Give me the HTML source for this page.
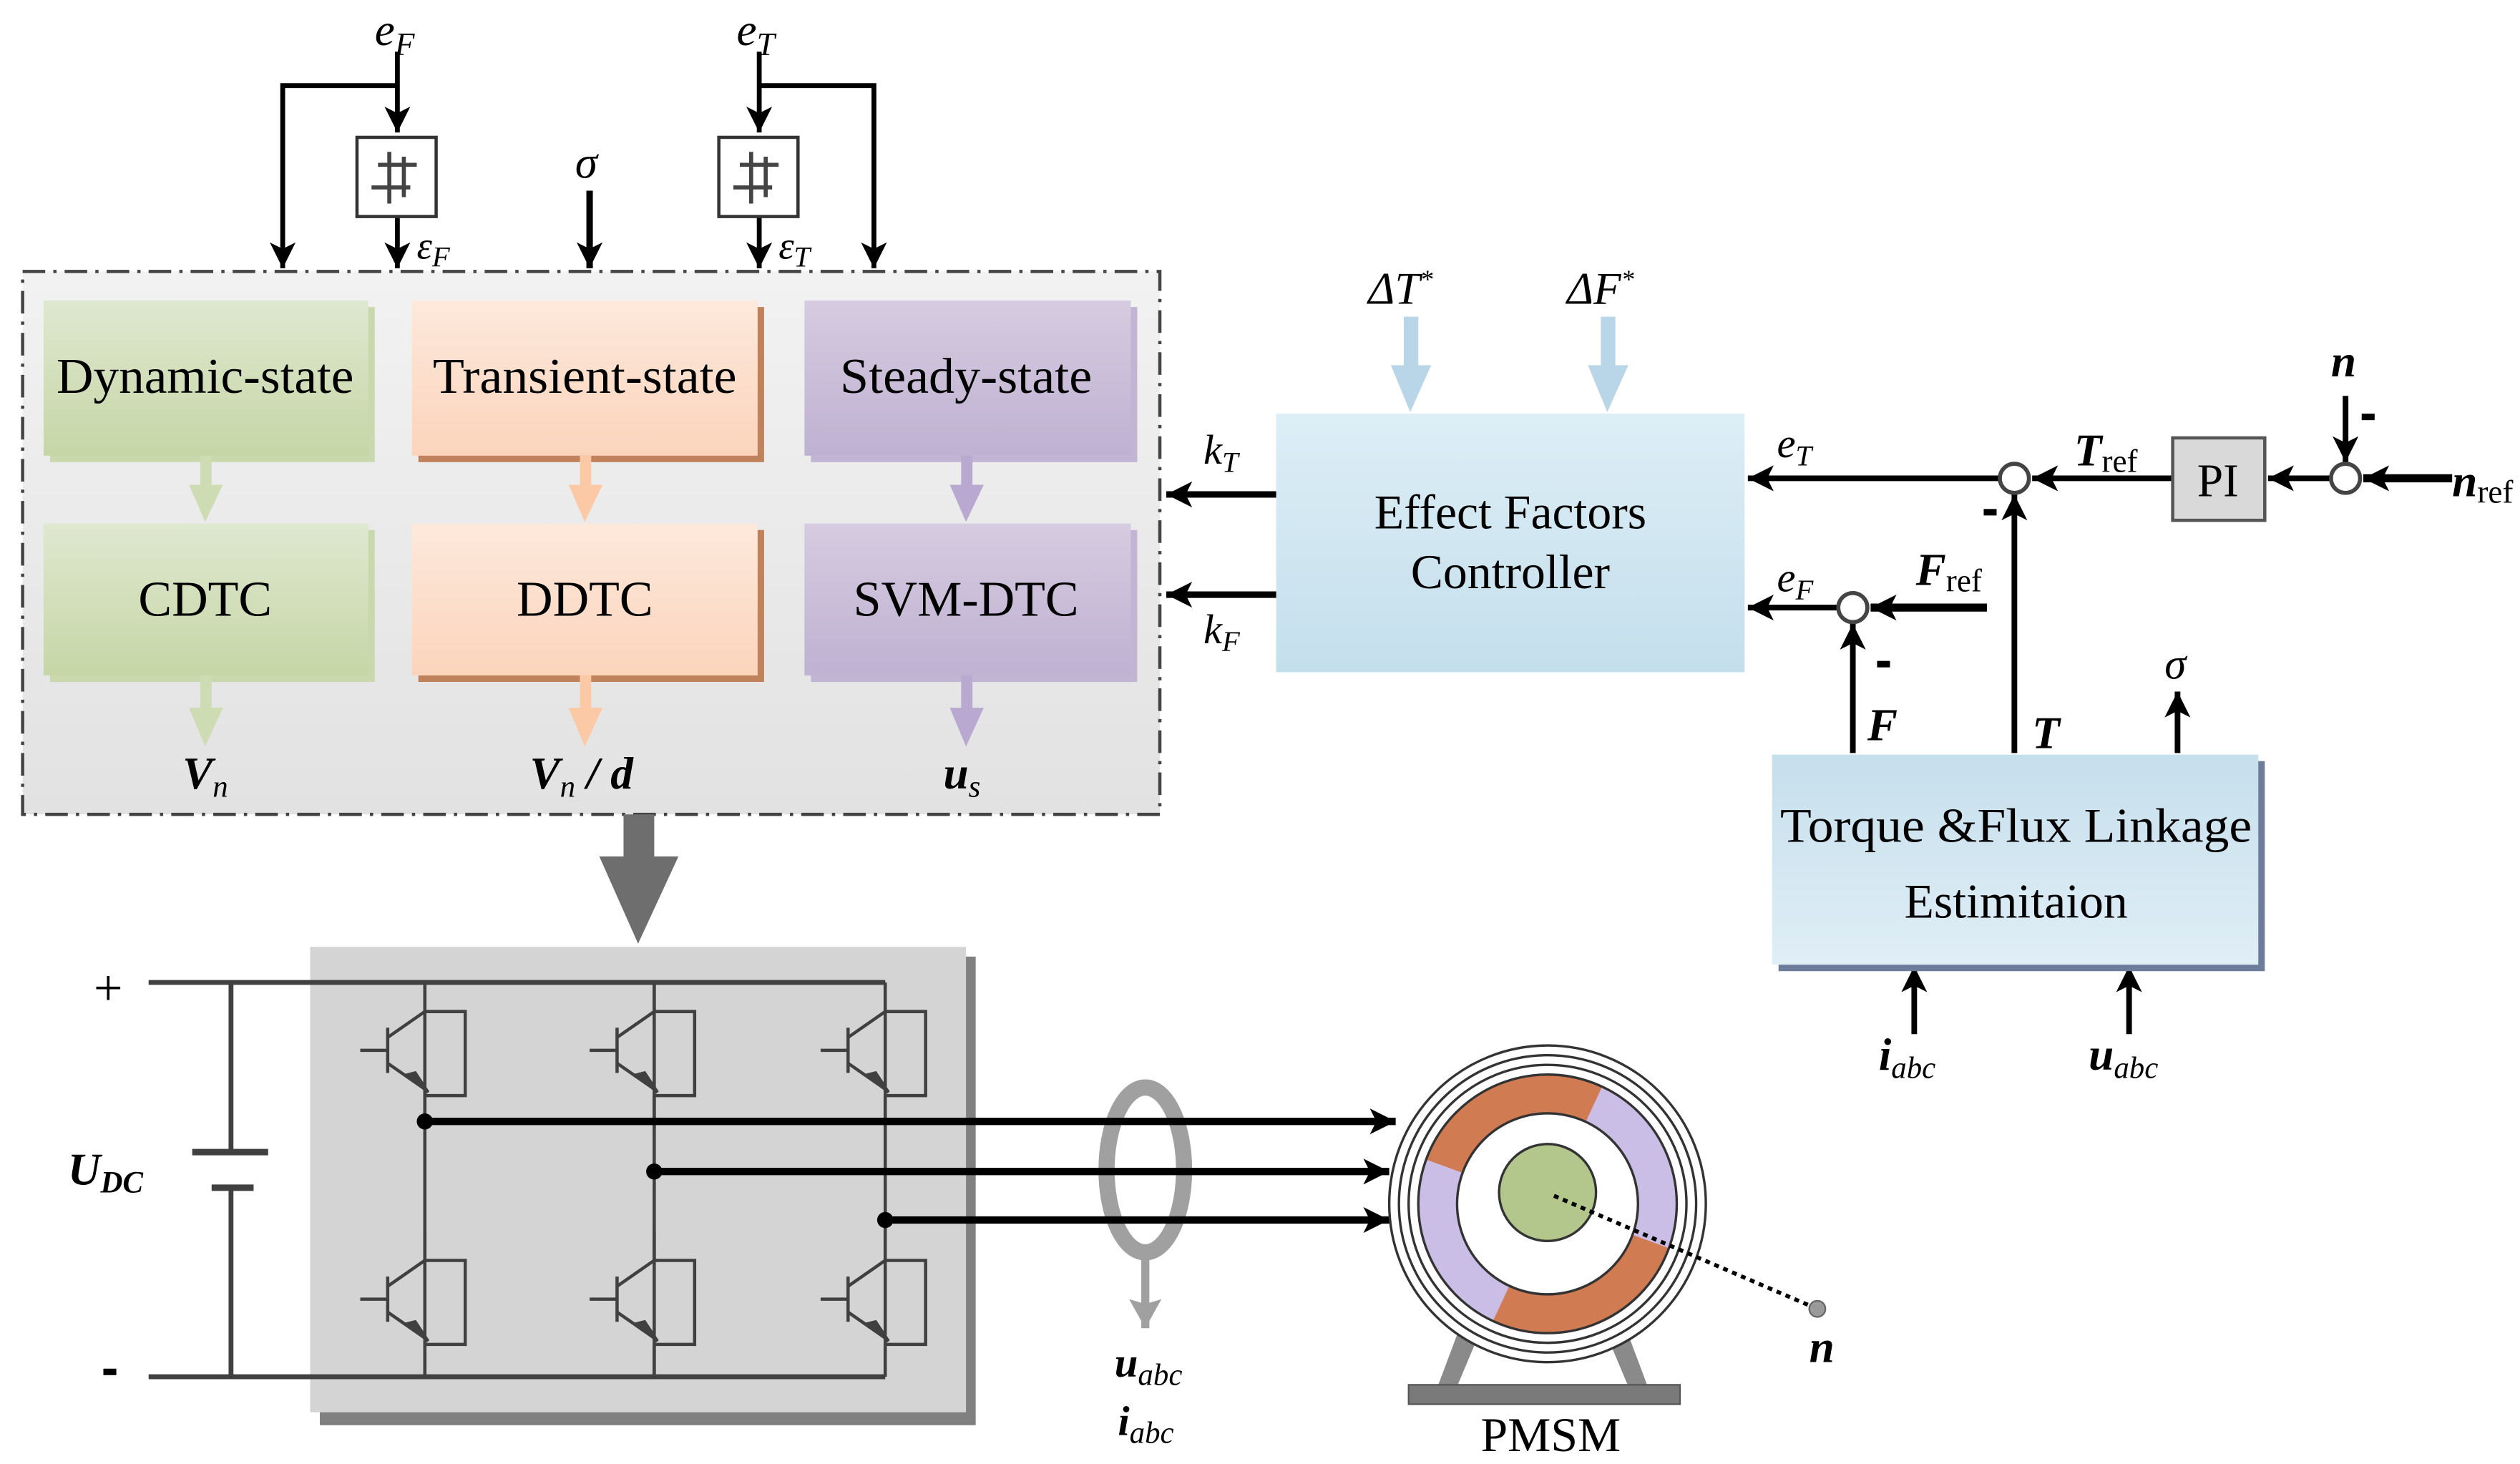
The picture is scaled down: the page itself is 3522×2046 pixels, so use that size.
<!DOCTYPE html>
<html><head><meta charset="utf-8"><style>
html,body{margin:0;padding:0;background:#fff;}
svg{display:block;}
text{font-family:"Liberation Serif",serif;}
</style></head><body>
<svg width="3522" height="2046" viewBox="0 0 1560 906" preserveAspectRatio="none" xmlns="http://www.w3.org/2000/svg">
<defs>
<marker id="ab" markerUnits="userSpaceOnUse" markerWidth="20" markerHeight="16" refX="16" refY="8" orient="auto"><path d="M0,0 L16,8 L0,16 L4,8 z" fill="#000"/></marker>
<marker id="ag" markerUnits="userSpaceOnUse" markerWidth="20" markerHeight="20" refX="18" refY="10" orient="auto"><path d="M0,0 L18,10 L0,20 L3,10 z" fill="#a0a0a0"/></marker>
<linearGradient id="bg" x1="0" y1="0" x2="0" y2="1"><stop offset="0" stop-color="#f2f2f2"/><stop offset="1" stop-color="#e2e2e2"/></linearGradient>
<linearGradient id="gr" x1="0" y1="0" x2="0" y2="1"><stop offset="0" stop-color="#dfe8d0"/><stop offset="1" stop-color="#c6d6a6"/></linearGradient>
<linearGradient id="or" x1="0" y1="0" x2="0" y2="1"><stop offset="0" stop-color="#fde9dc"/><stop offset="1" stop-color="#fbd4bc"/></linearGradient>
<linearGradient id="pu" x1="0" y1="0" x2="0" y2="1"><stop offset="0" stop-color="#d6cbe0"/><stop offset="1" stop-color="#bfb1d2"/></linearGradient>
<linearGradient id="bl" x1="0" y1="0" x2="0" y2="1"><stop offset="0" stop-color="#ddeef6"/><stop offset="1" stop-color="#c4dfec"/></linearGradient>
<linearGradient id="bl2" x1="0" y1="0" x2="0" y2="1"><stop offset="0" stop-color="#c6dfec"/><stop offset="1" stop-color="#e0eef6"/></linearGradient>
<g id="igbt" fill="none" stroke="#404040" stroke-width="2">
<path d="M0,0 V18 M0,18 H25 V70 H0 M0,70 V90"/>
<path d="M-23,28 V56 M-40,42 H-23 M-23,34 L0,18 M-23,50 L0,66"/>
<path d="M-10,57 L2,68 L-6,56 z" fill="#404040"/>
</g>
</defs>

<rect x="14" y="168" width="704" height="336" fill="url(#bg)" stroke="#444" stroke-width="2" stroke-dasharray="14,5,2,5"/>

<rect x="31" y="190" width="201" height="96" fill="#c9d8ad"/>
<rect x="27" y="186" width="201" height="96" fill="url(#gr)"/>
<rect x="259" y="190" width="214" height="96" fill="#c0825a"/>
<rect x="255" y="186" width="214" height="96" fill="url(#or)"/>
<rect x="502" y="190" width="202" height="96" fill="#c2b5d4"/>
<rect x="498" y="186" width="202" height="96" fill="url(#pu)"/>
<rect x="31" y="328" width="201" height="94" fill="#c9d8ad"/>
<rect x="27" y="324" width="201" height="94" fill="url(#gr)"/>
<rect x="259" y="328" width="214" height="94" fill="#c0825a"/>
<rect x="255" y="324" width="214" height="94" fill="url(#or)"/>
<rect x="502" y="328" width="202" height="94" fill="#c2b5d4"/>
<rect x="498" y="324" width="202" height="94" fill="url(#pu)"/>
<g font-size="31" text-anchor="middle" fill="#000">
<text x="127" y="243" textLength="184" lengthAdjust="spacingAndGlyphs">Dynamic-state</text>
<text x="362" y="243" textLength="188" lengthAdjust="spacingAndGlyphs">Transient-state</text>
<text x="598" y="243" textLength="156" lengthAdjust="spacingAndGlyphs">Steady-state</text>
<text x="127" y="381">CDTC</text>
<text x="362" y="381">DDTC</text>
<text x="598" y="381">SVM-DTC</text>
</g>
<g>
<rect x="124" y="282" width="7" height="20" fill="#cddcb2"/><path d="M117,300 L138,300 L127,323 z" fill="#cddcb2"/>
<rect x="359" y="282" width="7" height="20" fill="#fcc9a6"/><path d="M352,300 L373,300 L362,323 z" fill="#fcc9a6"/>
<rect x="595" y="282" width="7" height="20" fill="#b9a8cf"/><path d="M588,300 L609,300 L598,323 z" fill="#b9a8cf"/>
<rect x="124" y="418" width="7" height="22" fill="#cddcb2"/><path d="M117,438 L138,438 L127,462 z" fill="#cddcb2"/>
<rect x="359" y="418" width="7" height="22" fill="#fcc9a6"/><path d="M352,438 L373,438 L362,462 z" fill="#fcc9a6"/>
<rect x="595" y="418" width="7" height="22" fill="#b9a8cf"/><path d="M588,438 L609,438 L598,462 z" fill="#b9a8cf"/>
</g>
<g font-size="28" font-weight="bold" font-style="italic">
<text x="113" y="488">V<tspan font-size="19" font-weight="normal" dy="5">n</tspan></text>
<text x="328" y="488">V<tspan font-size="19" font-weight="normal" dy="5">n</tspan><tspan dy="-5"> / d</tspan></text>
<text x="584" y="488">u<tspan font-size="19" font-weight="normal" dy="5">s</tspan></text>
</g>

<g font-size="28" font-style="italic">
<text x="232" y="28">e<tspan font-size="20" dy="6">F</tspan></text>
<text x="456" y="28">e<tspan font-size="20" dy="6">T</tspan></text>
<text x="356" y="110">σ</text>
<text x="258" y="160" font-size="24">ε<tspan font-size="18" dy="5">F</tspan></text>
<text x="482" y="160" font-size="24">ε<tspan font-size="18" dy="5">T</tspan></text>
</g>
<g stroke="#000" stroke-width="3" fill="none">
<path d="M246,32 V82" marker-end="url(#ab)"/>
<path d="M246,53 H175 V166" marker-end="url(#ab)"/>
<path d="M246,134 V166" marker-end="url(#ab)"/>
<path d="M470,32 V82" marker-end="url(#ab)"/>
<path d="M470,53 H541 V166" marker-end="url(#ab)"/>
<path d="M470,134 V166" marker-end="url(#ab)"/>
<path d="M365,118 V166" stroke-width="4" marker-end="url(#ab)"/>
</g>
<rect x="221" y="85" width="49" height="49" fill="#fff" stroke="#333" stroke-width="2"/>
<rect x="445" y="85" width="49" height="49" fill="#fff" stroke="#333" stroke-width="2"/>
<g stroke="#444" stroke-width="2.5" fill="none">
<path d="M234,102 H258 M230,116 H254 M241,94 V126 M250,97 V122"/>
<path d="M458,102 H482 M454,116 H478 M465,94 V126 M474,97 V122"/>
</g>

<rect x="790" y="256" width="290" height="160" fill="url(#bl)"/>
<g font-size="30" text-anchor="middle"><text x="935" y="327">Effect Factors</text><text x="935" y="364">Controller</text></g>
<g font-size="28" font-style="italic">
<text x="847" y="188">ΔT<tspan font-size="16" dy="-10">*</tspan></text>
<text x="970" y="188">ΔF<tspan font-size="16" dy="-10">*</tspan></text>
</g>
<rect x="869" y="196" width="9" height="34" fill="#b8d6e8"/><path d="M861,226 L886,226 L873,255 z" fill="#b8d6e8"/>
<rect x="991" y="196" width="9" height="34" fill="#b8d6e8"/><path d="M983,226 L1008,226 L995,255 z" fill="#b8d6e8"/>
<g stroke="#000" stroke-width="4" fill="none">
<path d="M790,306 H722" marker-end="url(#ab)"/>
<path d="M790,368 H722" marker-end="url(#ab)"/>
</g>
<g font-size="26" font-style="italic">
<text x="745" y="287">k<tspan font-size="18" dy="5">T</tspan></text>
<text x="745" y="398">k<tspan font-size="18" dy="5">F</tspan></text>
<text x="1100" y="283">e<tspan font-size="18" dy="5">T</tspan></text>
<text x="1100" y="366">e<tspan font-size="18" dy="5">F</tspan></text>
</g>

<g stroke="#000" stroke-width="3.5" fill="none">
<path d="M1238,296 H1082" marker-end="url(#ab)"/>
<path d="M1345,296 H1258" marker-end="url(#ab)"/>
<path d="M1443,296 H1404" marker-end="url(#ab)"/>
<path d="M1518,296 H1463" stroke-width="5" marker-end="url(#ab)"/>
<path d="M1452,245 V286" marker-end="url(#ab)"/>
<path d="M1247,466 V306" marker-end="url(#ab)"/>
<path d="M1138,376 H1082" marker-end="url(#ab)"/>
<path d="M1230,376 H1158" stroke-width="5" marker-end="url(#ab)"/>
<path d="M1147,466 V386" marker-end="url(#ab)"/>
<path d="M1348,466 V428" marker-end="url(#ab)"/>
<path d="M1185,640 V598" marker-end="url(#ab)"/>
<path d="M1318,640 V598" marker-end="url(#ab)"/>
</g>
<g fill="#fff" stroke="#444" stroke-width="2.5">
<circle cx="1247" cy="296" r="9"/><circle cx="1452" cy="296" r="9"/><circle cx="1147" cy="376" r="9"/>
</g>
<rect x="1345" y="271" width="57" height="51" fill="#d9d9d9" stroke="#555" stroke-width="2"/>
<text x="1373" y="307" font-size="29" text-anchor="middle">PI</text>
<rect x="1462" y="256" width="8" height="4" fill="#000"/>
<rect x="1228" y="315" width="8" height="4" fill="#000"/>
<rect x="1162" y="409" width="8" height="4" fill="#000"/>
<g font-size="28" font-style="italic" font-weight="bold">
<text x="1443" y="233">n</text>
<text x="1518" y="307">n<tspan font-size="20" font-style="normal" font-weight="normal" dy="4">ref</tspan></text>
<text x="1284" y="288">T<tspan font-size="20" font-style="normal" font-weight="normal" dy="4">ref</tspan></text>
<text x="1186" y="362">F<tspan font-size="20" font-style="normal" font-weight="normal" dy="4">ref</tspan></text>
<text x="1156" y="458">F</text>
<text x="1258" y="463">T</text>
<text x="1163" y="662">i<tspan font-size="19" font-weight="normal" dy="5">abc</tspan></text>
<text x="1293" y="662">u<tspan font-size="19" font-weight="normal" dy="5">abc</tspan></text>
<text x="1120" y="843">n</text>
</g>
<text x="1340" y="420" font-size="27" font-style="italic">σ</text>

<rect x="1101" y="471" width="301" height="130" fill="#6c7c9a"/>
<rect x="1097" y="467" width="301" height="130" fill="url(#bl2)"/>
<g font-size="30" text-anchor="middle"><text x="1248" y="521" textLength="292" lengthAdjust="spacingAndGlyphs">Torque &amp;Flux Linkage</text><text x="1248" y="568">Estimitaion</text></g>

<rect x="386" y="504" width="19" height="30" fill="#6e6e6e"/>
<path d="M371,530 L420,530 L395,584 z" fill="#6e6e6e"/>

<rect x="198" y="592" width="406" height="290" fill="#808080"/>
<rect x="192" y="586" width="406" height="288" fill="#d4d4d4"/>
<g stroke="#404040" stroke-width="3" fill="none">
<path d="M92,608 H548 M92,852 H548 M143,608 V713 M143,735 V852"/>
<path d="M119,713 H166 M131,735 H157" stroke-width="4"/>
</g>
<g stroke="#404040" stroke-width="2" fill="none">
<path d="M263,608 V852 M405,608 V852 M548,608 V852"/>
</g>
<use href="#igbt" x="263" y="608"/>
<use href="#igbt" x="405" y="608"/>
<use href="#igbt" x="548" y="608"/>
<use href="#igbt" x="263" y="762"/>
<use href="#igbt" x="405" y="762"/>
<use href="#igbt" x="548" y="762"/>
<text x="58" y="622" font-size="32">+</text>
<rect x="64" y="847" width="8" height="4" fill="#000"/>
<text x="42" y="733" font-size="28" font-style="italic" font-weight="bold">U<tspan font-size="19" dy="5">DC</tspan></text>
<g fill="#000"><circle cx="263" cy="694" r="5"/><circle cx="405" cy="725" r="5"/><circle cx="548" cy="755" r="5"/></g>
<ellipse cx="709" cy="724" rx="24" ry="51" fill="none" stroke="#a0a0a0" stroke-width="10"/>
<g stroke="#000" stroke-width="4.5" fill="none">
<path d="M263,694 H864" marker-end="url(#ab)"/>
<path d="M405,725 H860" marker-end="url(#ab)"/>
<path d="M548,755 H860" marker-end="url(#ab)"/>
</g>
<path d="M709,776 V822" stroke="#a0a0a0" stroke-width="5" marker-end="url(#ag)"/>
<g font-size="26" font-style="italic" font-weight="bold">
<text x="690" y="852">u<tspan font-size="19" font-weight="normal" dy="5">abc</tspan></text>
<text x="692" y="888">i<tspan font-size="19" font-weight="normal" dy="5">abc</tspan></text>
</g>

<path d="M905,818 L890,858 H902 L918,820 Z M1005,818 L1020,858 H1008 L992,820 Z" fill="#8a8a8a"/>
<rect x="872" y="857" width="168" height="12" fill="#7a7a7a" stroke="#555"/>
<g fill="#fff" stroke="#333" stroke-width="1.5">
<circle cx="958" cy="745" r="98"/><circle cx="958" cy="745" r="92"/><circle cx="958" cy="745" r="86"/>
</g>
<circle cx="958" cy="745" r="68" fill="none" stroke="#cabde6" stroke-width="24"/>
<path d="M894.1,721.7 A68,68 0 0 1 986.7,683.4" fill="none" stroke="#d07b52" stroke-width="24"/>
<path d="M1021.9,768.3 A68,68 0 0 1 929.3,806.6" fill="none" stroke="#d07b52" stroke-width="24"/>
<g fill="none" stroke="#333" stroke-width="1.5"><circle cx="958" cy="745" r="80"/><circle cx="958" cy="745" r="56"/></g>
<circle cx="958" cy="738" r="30" fill="#b3c78c" stroke="#333" stroke-width="1.5"/>
<path d="M962,740 L1125,810" stroke="#000" stroke-width="2.5" stroke-dasharray="3,3"/>
<circle cx="1125" cy="810" r="5" fill="#999" stroke="#666"/>
<text x="960" y="898" font-size="30" text-anchor="middle">PMSM</text>
</svg>
</body></html>
